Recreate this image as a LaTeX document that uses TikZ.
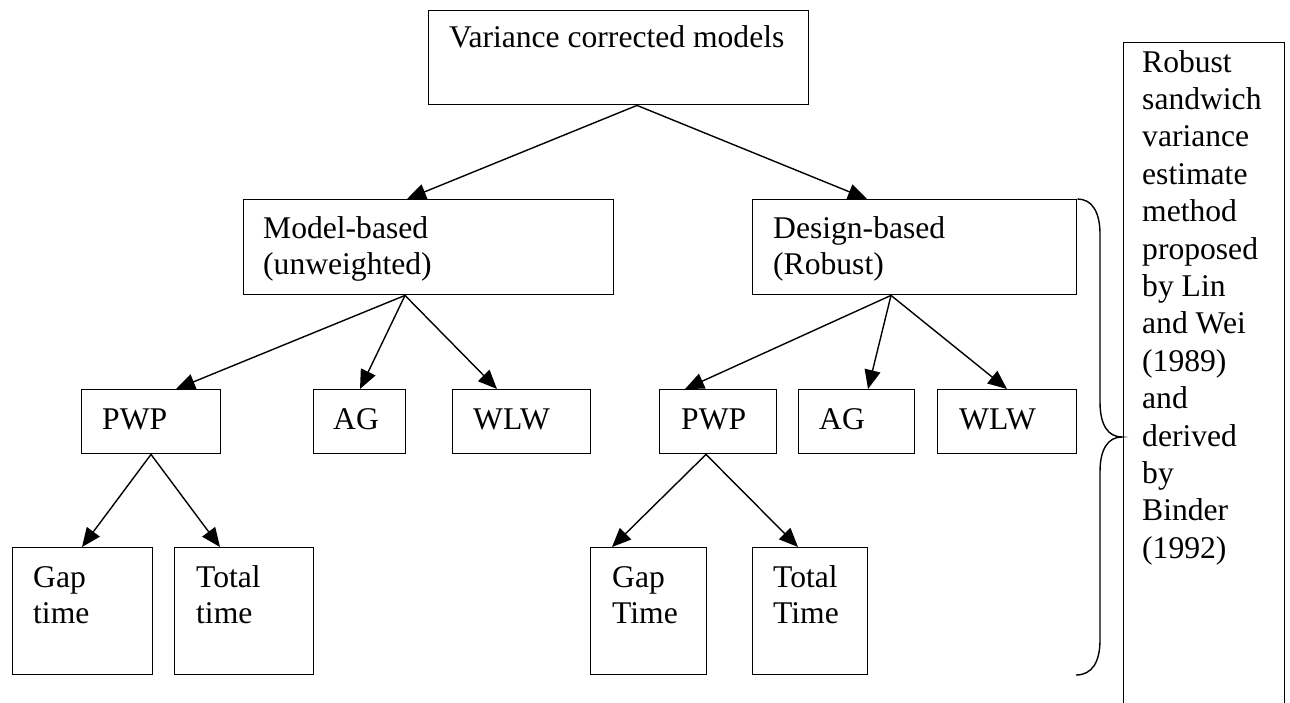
\documentclass[tikz,border=0pt]{standalone}
\usepackage{fontspec}
\setmainfont{Liberation Serif}
\usetikzlibrary{arrows.meta}
\begin{document}
\begin{tikzpicture}[x=1pt,y=-1pt,
  box/.style={draw, line width=1.4pt, fill=white, inner sep=0pt, anchor=north west},
  % multi-line labels are placed by the baseline of their last line
  txt/.style={anchor=base west, inner sep=0pt, align=left,
    font=\fontsize{31.6}{36.3}\selectfont},
  note/.style={txt, font=\fontsize{31.6}{37.4}\selectfont},
  arr/.style={line width=1.4pt, -{Triangle[length=19pt,width=16pt]}}]
\useasboundingbox (0,0) rectangle (1290,702);
\clip (0,0) rectangle (1290,702);

% boxes
\node[box, minimum width=380pt, minimum height=94pt] (top) at (428,10) {};
\node[box, minimum width=370pt, minimum height=95pt] (mb) at (243,199) {};
\node[box, minimum width=324pt, minimum height=95pt] (db) at (752,199) {};
\node[box, minimum width=139pt, minimum height=64pt] (pwpl) at (81,389) {};
\node[box, minimum width=92pt, minimum height=64pt] (agl) at (313,389) {};
\node[box, minimum width=138pt, minimum height=64pt] (wlwl) at (452,389) {};
\node[box, minimum width=117pt, minimum height=64pt] (pwpr) at (659,389) {};
\node[box, minimum width=116pt, minimum height=64pt] (agr) at (798,389) {};
\node[box, minimum width=139pt, minimum height=64pt] (wlwr) at (937,389) {};
\node[box, minimum width=140pt, minimum height=127pt] (gapl) at (12,547) {};
\node[box, minimum width=139pt, minimum height=127pt] (totl) at (174,547) {};
\node[box, minimum width=116pt, minimum height=127pt] (gapr) at (590,547) {};
\node[box, minimum width=115pt, minimum height=127pt] (totr) at (752,547) {};
\node[box, minimum width=161pt, minimum height=700pt] (rb) at (1123,42) {};

% labels
\node[txt] (topt) at (449,47) {Variance corrected models};
\node[txt] (mbt) at (263,274.3) {Model-based\\(unweighted)};
\node[txt] (dbt) at (773,274.3) {Design-based\\(Robust)};
\node[txt] (pwplt) at (102,429) {PWP};
\node[txt] (aglt) at (333,429) {AG};
\node[txt] (wlwlt) at (473,429) {WLW};
\node[txt] (pwprt) at (681,429) {PWP};
\node[txt] (agrt) at (819,429) {AG};
\node[txt] (wlwrt) at (959,429) {WLW};
\node[txt] (gaplt) at (33,623.3) {Gap\\time};
\node[txt] (totlt) at (196,623.3) {Total\\time};
\node[txt] (gaprt) at (612,623.3) {Gap\\Time};
\node[txt] (totrt) at (773,623.3) {Total\\Time};
\node[note] (rbt) at (1142,558.2) {Robust\\sandwich\\variance\\estimate\\method\\proposed\\by Lin\\and Wei\\(1989)\\and\\derived\\by\\Binder\\(1992)};

% connectors
\draw[arr] ([xshift=209pt]top.south west) -- ([xshift=164pt]mb.north west);
\draw[arr] ([xshift=209pt]top.south west) -- ([xshift=115pt]db.north west);
\draw[arr] ([xshift=162pt]mb.south west) -- ([xshift=95pt]pwpl.north west);
\draw[arr] ([xshift=162pt]mb.south west) -- ([xshift=47pt]agl.north west);
\draw[arr] ([xshift=162pt]mb.south west) -- ([xshift=45pt]wlwl.north west);
\draw[arr] ([xshift=139pt]db.south west) -- ([xshift=26pt]pwpr.north west);
\draw[arr] ([xshift=139pt]db.south west) -- ([xshift=70pt]agr.north west);
\draw[arr] ([xshift=139pt]db.south west) -- ([xshift=70pt]wlwr.north west);
\draw[arr] ([xshift=70pt]pwpl.south west) -- ([xshift=70pt]gapl.north west);
\draw[arr] ([xshift=70pt]pwpl.south west) -- ([xshift=46pt]totl.north west);
\draw[arr] ([xshift=47pt]pwpr.south west) -- ([xshift=22pt]gapr.north west);
\draw[arr] ([xshift=47pt]pwpr.south west) -- ([xshift=46pt]totr.north west);

% curly brace from the design-based box to the note box
\draw[line width=1.4pt] (db.north east)
  .. controls (1092,199) and (1100,212) .. (1100,234) -- (1100,402)
  .. controls (1100,425) and (1108,437) .. (1122,437)
  .. controls (1108,437) and (1100,449) .. (1100,472) -- (1100,640)
  .. controls (1100,662) and (1092,675) .. (1076,675);
\end{tikzpicture}
\end{document}
